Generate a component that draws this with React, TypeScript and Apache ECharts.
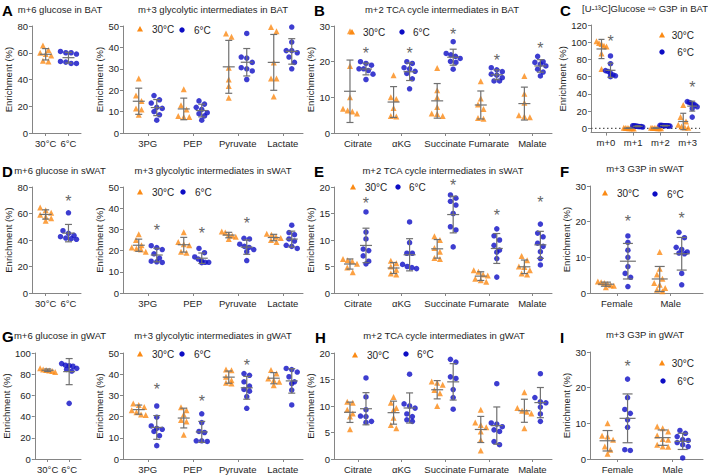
import React, { useEffect, useRef } from 'react';
import * as echarts from 'echarts';

// ---------- categories / tick labels ----------
const glucoseCats = ['30°C', '6°C'];
const glycoCats = ['3PG', 'PEP', 'Pyruvate', 'Lactate'];
const tcaCats = ['Citrate', 'αKG', 'Succinate', 'Fumarate', 'Malate'];
const isotopologueCats = ['m+0', 'm+1', 'm+2', 'm+3'];
const sexCats = ['Female', 'Male'];
const legendLabels = ['30°C', '6°C'];

const ticks80 = [0, 20, 40, 60, 80];
const ticks100 = [0, 20, 40, 60, 80, 100];
const ticks120 = [0, 20, 40, 60, 80, 100, 120];
const ticks50 = [0, 10, 20, 30, 40, 50];
const ticks30 = [0, 10, 20, 30];
const ticks20 = [0, 5, 10, 15, 20];

// ---------- BAT ----------
const batGlucose30 = [65.5, 62, 60, 59, 58, 54, 53.5];
const batGlucose6 = [61, 60, 60, 59, 53.5, 53, 52, 52];
const batGlyco30 = [
  [25.5, 17.5, 15, 11.5, 11, 8.5],
  [20.5, 13, 11, 8, 7.5, 7.5],
  [46.5, 45, 30.5, 25, 22, 16.5],
  [49.5, 47.5, 33, 25.5, 25.5, 17],
];
const batGlyco6 = [
  [17.5, 15.5, 14, 12, 11.5, 10, 8.5, 6],
  [15, 13.5, 12, 11, 9.5, 9, 8, 6],
  [46.5, 35.5, 35, 33, 30.5, 30, 29, 25],
  [49.5, 42.5, 38.5, 38.5, 37.5, 35.5, 33, 30],
];
const batTca30 = [
  [28.5, 18.8, 10, 6.8, 6.3, 6, 5.5],
  [16.2, 10, 9.5, 7, 4.8, 4.6],
  [18.2, 12, 10, 7.3, 5.5, 5.3, 4.8],
  [14.5, 9.7, 8, 6.7, 4.2, 4],
  [16, 11, 8.5, 5, 4.6, 4.4],
];
const batTca6 = [
  [20, 19.5, 19, 18, 18, 17.5, 16.5, 15],
  [20, 19.5, 18.3, 18, 17.3, 16.7, 15.2, 12.4],
  [25.6, 22.3, 21.9, 21.5, 20.9, 20.1, 19.8, 17.9],
  [18.3, 17.7, 17.2, 16.5, 16.2, 15.5, 14.6, 14.6],
  [21.5, 20, 19.8, 19.3, 18.8, 17.9, 17.1, 16],
];
const batG3P30 = [
  [101, 99, 98, 96, 95, 87, 69],
  [0.5, 0, 0, -0.3, 0.3, 0, 0.2],
  [0.5, 0.3, 0, 0, 0.2, 0.4, 0],
  [27, 13, 8, 4, 2, 1, 0.5],
];
const batG3P6 = [
  [84, 75, 67, 66, 64, 62, 61, 60],
  [3, 2.5, 2, 2, 1.5, 2.5, 3, 2],
  [3.5, 3, 3, 2.5, 3, 3.5, 2.8, 3.2],
  [31, 30, 29, 28, 27, 25, 23, 13],
];

// ---------- sWAT ----------
const swatGlucose30 = [64.5, 62.5, 60.5, 59, 57.5, 56.5, 54.5];
const swatGlucose6 = [60.5, 47, 45, 43.5, 42.5, 41.5, 41, 40.5];
const swatGlyco30 = [
  [27.7, 25, 22.5, 21.5, 21, 20.5, 19.5],
  [28.6, 24, 23, 22.5, 19.5, 19],
  [29, 28.5, 27.5, 27, 26.5, 25.5],
  [28, 27.5, 26.5, 26, 25, 24],
];
const swatGlyco6 = [
  [22.3, 21.4, 20.5, 18.5, 16.5, 15, 14.7, 14.4],
  [21, 19, 17, 16, 15, 14.5, 14.5, 14.3],
  [25.8, 25.5, 23, 22, 21.5, 20.5, 19.5, 15.3],
  [32, 28.5, 27.5, 25.5, 24.5, 22.5, 22, 21],
];
const swatTca30 = [
  [6.4, 6.2, 6, 5.5, 4.8, 3.9],
  [6.1, 5.6, 5, 4.4, 3.7, 3.5],
  [10.7, 10, 8.5, 7.8, 6.6, 6.4],
  [4.3, 4, 3.5, 3.3, 2.7, 2.4, 2.1],
  [7, 6.2, 5, 4.9, 4.3, 3.7, 3.5],
];
const swatTca6 = [
  [15.3, 11.5, 10.2, 8.3, 8, 7, 6, 5.5],
  [13.4, 9.5, 7.5, 7.5, 5.4, 5, 4.8, 4.6],
  [18.5, 17.9, 17.3, 16.6, 15, 12.5, 11.9, 8.7],
  [12.1, 10.8, 10, 9, 8.1, 7.7, 6.5, 3],
  [13, 11.3, 10.6, 9.4, 8.8, 7.8, 6.5, 5.3],
];
const swatG3P30 = [
  [3.2, 3, 2.8, 2.5, 2.2, 2, 1.6],
  [11.5, 6.8, 5.2, 4, 2.8, 2.3, 1.4, 0.9, 0.5],
];
const swatG3P6 = [
  [16, 14.2, 12, 10, 7.4, 5.5, 4.4, 1.8],
  [17, 15.5, 12.8, 12.2, 11.5, 11.2, 11, 5.5, 2.3],
];

// ---------- gWAT ----------
const gwatGlucose30 = [85.5, 84.5, 84, 83.5, 83, 82];
const gwatGlucose6 = [90, 88.5, 88, 87.5, 85.5, 84.5, 83, 52.5];
const gwatGlyco30 = [
  [26.2, 25.5, 24.5, 23, 22, 21, 20.8],
  [24.4, 23, 21, 18.4, 17.7, 11.4],
  [42.2, 41.9, 38.8, 37.2, 36, 35.6],
  [42, 40.3, 38, 37.2, 36.4, 34.8],
];
const gwatGlyco6 = [
  [25, 19.7, 15.6, 14.5, 14, 13, 11, 6.3],
  [21.3, 17.2, 13, 12.5, 8.6, 8.6, 8.3],
  [40.3, 39.5, 36.4, 34.4, 32.8, 32, 29.4, 23.9],
  [42.7, 42.2, 41, 38.8, 36.4, 35.6, 32.5, 25.5],
];
const gwatTca30 = [
  [10.8, 10.6, 9.3, 8.6, 8, 5.6],
  [11.7, 10.6, 9.6, 9.3, 7.8, 6.4, 5.8],
  [14.6, 14.4, 14, 13, 12.4, 10],
  [9.3, 6.9, 6.4, 6, 5.2, 3.6, 1.6],
  [12.6, 9.6, 9.1, 8.9, 8.6, 5.8],
];
const gwatTca6 = [
  [15.3, 11.7, 9.3, 8.1, 8, 7.1, 6.9],
  [16, 10.4, 10, 9.6, 8.5, 8, 7.4, 7.1],
  [18.8, 18.3, 15.5, 15.2, 13.1, 11.6, 9.4],
  [14.2, 6.8, 6.6, 6.1, 5.5, 5.2, 3.3, 2.7],
  [16.1, 11.6, 10.8, 10.6, 9.8, 8.5, 7.1],
];
const gwatG3P30 = [
  [10, 6.5, 6.3, 5.4, 3.5, 2.6, 1.5],
  [9.1, 8.6, 7.7, 6.6, 5.6, 5.4, 4, 3.5, 3.4],
];
const gwatG3P6 = [
  [22.4, 17.2, 13.9, 12.8, 11, 8.9, 2.6, 2.4],
  [8, 7.2, 6.3, 5.4, 5.2, 4.6, 4, 3.5, 0.3],
];

// ---------- significance asterisks: [category index, height] (at the 6°C group) ----------
const batTcaStars = [[0, 23.4], [1, 23.4], [2, 28.6], [3, 21.2], [4, 24.7]];
const batG3PStars = [[0, 104.5], [3, 52]];
const swatGlucoseStars = [[1, 72]];
const swatGlycoStars = [[0, 31.3], [1, 29.7], [2, 34.2]];
const swatTcaStars = [[0, 17.5], [2, 20.9], [3, 15.3], [4, 17.8]];
const swatG3PStars = [[0, 20.9], [1, 22]];
const gwatGlycoStars = [[0, 34.4], [1, 28.6], [2, 45.8]];
const gwatG3PStars = [[0, 26.9]];

// ---------- styling ----------
const ORANGE = '#FB8A14';
const BLUE = '#0C0CC4';
const BAR = '#707070';
const AXIS = '#858585';
const TXT = '#1e1e1e';
const FONT = '"Liberation Sans", Arial, Helvetica, sans-serif';

type Panel = {
  left: number; top: number; width: number; height: number;
  xr: [number, number]; yr: [number, number]; ticks: number[];
  cats: string[]; g30: number[][]; g6: number[][]; stars: number[][];
  half: number; spread: number; barHalf: number; capHalf: number; nameGap: number; zero?: boolean;
};

const single = (a: number[], b: number[]) => ({ g30: [a, []], g6: [[], b] });

const panels: Panel[] = [
  // row 1 (BAT)
  { left: 32, top: 26, width: 49, height: 107, xr: [-0.6, 1.55], yr: [0, 80], ticks: ticks80, cats: glucoseCats, ...single(batGlucose30, batGlucose6), stars: [], half: 0, spread: 8, barHalf: 6, capHalf: 3.5, nameGap: 15 },
  { left: 123, top: 26, width: 180, height: 107, xr: [-0.55, 3.45], yr: [0, 50], ticks: ticks50, cats: glycoCats, g30: batGlyco30, g6: batGlyco6, stars: [], half: 9, spread: 7, barHalf: 6, capHalf: 3.5, nameGap: 12 },
  { left: 334, top: 26, width: 218, height: 107, xr: [-0.55, 4.45], yr: [0, 30], ticks: ticks30, cats: tcaCats, g30: batTca30, g6: batTca6, stars: batTcaStars, half: 8, spread: 7, barHalf: 6, capHalf: 3.5, nameGap: 12 },
  { left: 591, top: 25, width: 109, height: 107.6, xr: [-0.55, 3.45], yr: [-5, 120], ticks: ticks120, cats: isotopologueCats, g30: batG3P30, g6: batG3P6, stars: batG3PStars, half: 4.5, spread: 5, barHalf: 5, capHalf: 3, nameGap: 19, zero: true },
  // row 2 (sWAT)
  { left: 32, top: 187, width: 49, height: 106, xr: [-0.6, 1.55], yr: [0, 80], ticks: ticks80, cats: glucoseCats, ...single(swatGlucose30, swatGlucose6), stars: swatGlucoseStars, half: 0, spread: 8, barHalf: 6, capHalf: 3.5, nameGap: 15 },
  { left: 123, top: 187, width: 180, height: 106, xr: [-0.55, 3.45], yr: [0, 50], ticks: ticks50, cats: glycoCats, g30: swatGlyco30, g6: swatGlyco6, stars: swatGlycoStars, half: 9, spread: 7, barHalf: 6, capHalf: 3.5, nameGap: 12 },
  { left: 334, top: 187, width: 218, height: 106, xr: [-0.55, 4.45], yr: [0, 20], ticks: ticks20, cats: tcaCats, g30: swatTca30, g6: swatTca6, stars: swatTcaStars, half: 8, spread: 7, barHalf: 6, capHalf: 3.5, nameGap: 12 },
  { left: 590, top: 186, width: 113, height: 107, xr: [-0.5, 1.6], yr: [0, 30], ticks: ticks30, cats: sexCats, g30: swatG3P30, g6: swatG3P6, stars: swatG3PStars, half: 11, spread: 8, barHalf: 8, capHalf: 5, nameGap: 15 },
  // row 3 (gWAT)
  { left: 32, top: 353, width: 49, height: 106, xr: [-0.6, 1.55], yr: [0, 100], ticks: ticks100, cats: glucoseCats, ...single(gwatGlucose30, gwatGlucose6), stars: [], half: 0, spread: 8, barHalf: 6, capHalf: 3.5, nameGap: 18 },
  { left: 123, top: 353, width: 180, height: 106, xr: [-0.55, 3.45], yr: [0, 50], ticks: ticks50, cats: glycoCats, g30: gwatGlyco30, g6: gwatGlyco6, stars: gwatGlycoStars, half: 9, spread: 7, barHalf: 6, capHalf: 3.5, nameGap: 12 },
  { left: 334, top: 353, width: 218, height: 106, xr: [-0.55, 4.45], yr: [0, 20], ticks: ticks20, cats: tcaCats, g30: gwatTca30, g6: gwatTca6, stars: [], half: 8, spread: 7, barHalf: 6, capHalf: 3.5, nameGap: 12 },
  { left: 590, top: 352, width: 113, height: 107, xr: [-0.5, 1.55], yr: [0, 30], ticks: ticks30, cats: sexCats, g30: gwatG3P30, g6: gwatG3P6, stars: gwatG3PStars, half: 10, spread: 8, barHalf: 8, capHalf: 5, nameGap: 15 },
];

const titles: [string, number, number][] = [
  ['m+6 glucose in BAT', 60, 9], ['m+3 glycolytic intermediates in BAT', 213, 9],
  ['m+2 TCA cycle intermediates in BAT', 442, 9], ['[U-¹³C]Glucose ⇨ G3P in BAT', 645, 8],
  ['m+6 glucose in sWAT', 60, 170], ['m+3 glycolytic intermediates in sWAT', 213, 170],
  ['m+2 TCA cycle intermediates in sWAT', 443, 170], ['m+3 G3P in sWAT', 645, 168],
  ['m+6 glucose in gWAT', 60, 335], ['m+3 glycolytic intermediates in gWAT', 213, 335],
  ['m+2 TCA cycle intermediates in gWAT', 444, 335], ['m+3 G3P in gWAT', 645, 334],
];
const letters: [string, number, number][] = [
  ['A', 2, 10], ['B', 314, 10], ['C', 560, 10],
  ['D', 2, 171], ['E', 314, 171], ['F', 560, 171],
  ['G', 2, 336], ['H', 315, 337], ['I', 560, 337],
];
// legend placements: triangle, 30°C text, circle, 6°C text, right-aligned?
const legends: { tri: number[]; t30: number[]; cir: number[]; t6: number[]; right?: boolean }[] = [
  { tri: [140, 29], t30: [152, 29], cir: [182, 30], t6: [194, 30] },
  { tri: [352, 32], t30: [363, 32], cir: [402, 32], t6: [413, 32] },
  { tri: [662, 35], t30: [694, 35], cir: [662, 52], t6: [694, 52], right: true },
  { tri: [140, 192], t30: [152, 192], cir: [183, 192], t6: [195, 192] },
  { tri: [353, 187], t30: [365, 187], cir: [398, 187], t6: [409, 187] },
  { tri: [605, 193], t30: [617, 193], cir: [655, 194], t6: [667, 194] },
  { tri: [140, 354], t30: [152, 354], cir: [182, 354], t6: [194, 354] },
  { tri: [355, 355], t30: [367, 355], cir: [406, 354], t6: [417, 354] },
  { tri: [662, 363], t30: [694, 363], cir: [663, 381], t6: [694, 381], right: true },
];

function swarm(vals: number[], pxY: number, size: number, maxHalf: number): number[] {
  const idx = vals.map((_, i) => i).sort((a, b) => vals[b] - vals[a]);
  const out = new Array(vals.length).fill(0);
  let row: number[] = [];
  let rowTop = 0;
  const flush = () => {
    const k = row.length;
    let step = size;
    if (((k - 1) / 2) * step > maxHalf) step = (maxHalf * 2) / (k - 1);
    row.forEach((id, j) => { out[id] = (j - (k - 1) / 2) * step; });
    row = [];
  };
  for (const i of idx) {
    const yp = vals[i] * pxY;
    if (row.length && rowTop - yp >= size) flush();
    if (!row.length) rowTop = yp;
    row.push(i);
  }
  flush();
  return out;
}

const mean = (a: number[]) => a.reduce((s, v) => s + v, 0) / a.length;
const sd = (a: number[]) => {
  const m = mean(a);
  return Math.sqrt(a.reduce((s, v) => s + (v - m) ** 2, 0) / (a.length - 1));
};

function buildOption() {
  const grid: any[] = [];
  const xAxis: any[] = [];
  const yAxis: any[] = [];
  const series: any[] = [];
  const graphic: any[] = [];

  panels.forEach((p, i) => {
    grid.push({ left: p.left, top: p.top, width: p.width, height: p.height, containLabel: false });
    const catIdx = p.cats.map((_, k) => k);
    xAxis.push({
      gridIndex: i, type: 'value', min: p.xr[0], max: p.xr[1],
      axisLine: { show: true, onZero: false, lineStyle: { color: AXIS, width: 1 } },
      axisTick: { show: true, length: 3, customValues: catIdx, lineStyle: { color: AXIS } },
      axisLabel: { customValues: catIdx, formatter: (v: number) => p.cats[Math.round(v)] ?? '', fontSize: 9.5, color: TXT, margin: 5, fontFamily: FONT },
      splitLine: { show: false },
    });
    yAxis.push({
      gridIndex: i, type: 'value', min: p.yr[0], max: p.yr[1],
      axisLine: { show: true, onZero: false, lineStyle: { color: AXIS, width: 1 } },
      axisTick: { show: true, length: 3, customValues: p.ticks, lineStyle: { color: AXIS } },
      axisLabel: { customValues: p.ticks, fontSize: 9.5, color: TXT, margin: 4, fontFamily: FONT },
      splitLine: { show: false },
      name: 'Enrichment (%)', nameLocation: 'middle', nameGap: p.nameGap,
      nameTextStyle: { fontSize: 9.5, color: TXT, fontFamily: FONT },
    });

    const pxY = p.height / (p.yr[1] - p.yr[0]);
    const pxX = p.width / (p.xr[1] - p.xr[0]);
    const pts30: number[][] = [];
    const pts6: number[][] = [];
    const bars: number[][] = [];
    const build = (groups: number[][], sign: number, out: number[][]) => {
      groups.forEach((vals, c) => {
        if (!vals.length) return;
        const center = c + (sign * p.half) / pxX;
        const offs = swarm(vals, pxY, 5.5, p.spread);
        vals.forEach((v, k) => out.push([center + offs[k] / pxX, v]));
        bars.push([center, mean(vals), sd(vals)]);
      });
    };
    build(p.g30, -1, pts30);
    build(p.g6, 1, pts6);

    series.push({
      type: 'scatter', name: legendLabels[0], xAxisIndex: i, yAxisIndex: i, data: pts30,
      symbol: 'triangle', symbolSize: 6, itemStyle: { color: ORANGE }, z: 3, silent: true,
    });
    series.push({
      type: 'scatter', name: legendLabels[1], xAxisIndex: i, yAxisIndex: i, data: pts6,
      symbol: 'circle', symbolSize: 5.5, itemStyle: { color: BLUE }, z: 3, silent: true,
    });
    series.push({
      type: 'custom', xAxisIndex: i, yAxisIndex: i, data: bars, z: 4, silent: true,
      renderItem: (_params: any, api: any) => {
        const x = api.value(0), m = api.value(1), s = api.value(2);
        const c = api.coord([x, m]);
        const hi = api.coord([x, m + s]);
        const lo = api.coord([x, m - s]);
        const st = { stroke: BAR, lineWidth: 1.2 };
        return {
          type: 'group', children: [
            { type: 'line', shape: { x1: c[0] - p.barHalf, y1: c[1], x2: c[0] + p.barHalf, y2: c[1] }, style: st },
            { type: 'line', shape: { x1: c[0], y1: hi[1], x2: c[0], y2: lo[1] }, style: st },
            { type: 'line', shape: { x1: c[0] - p.capHalf, y1: hi[1], x2: c[0] + p.capHalf, y2: hi[1] }, style: st },
            { type: 'line', shape: { x1: c[0] - p.capHalf, y1: lo[1], x2: c[0] + p.capHalf, y2: lo[1] }, style: st },
          ],
        };
      },
    });
    if (p.stars.length) {
      series.push({
        type: 'custom', xAxisIndex: i, yAxisIndex: i, silent: true, z: 5,
        data: p.stars.map(([c, y]) => [c + p.half / pxX, y]),
        renderItem: (_params: any, api: any) => {
          const pt = api.coord([api.value(0), api.value(1)]);
          return {
            type: 'text', x: pt[0], y: pt[1] + 3.5,
            style: { text: '*', fill: '#666666', font: `16px ${FONT}`, textAlign: 'center', textVerticalAlign: 'middle' },
          };
        },
      });
    }
    if (p.zero) {
      series.push({
        type: 'line', xAxisIndex: i, yAxisIndex: i, silent: true, symbol: 'none', z: 1,
        data: [[p.xr[0], 0], [p.xr[1], 0]],
        lineStyle: { color: '#555', width: 1.2, type: [1.5, 2.5] },
      });
    }
  });

  titles.forEach(([t, x, y]) => graphic.push({
    type: 'text', x, y, silent: true,
    style: { text: t, fill: TXT, font: `9.5px ${FONT}`, textAlign: 'center', textVerticalAlign: 'middle' },
  }));
  letters.forEach(([t, x, y]) => graphic.push({
    type: 'text', x, y, silent: true,
    style: { text: t, fill: '#000', font: `bold 15px ${FONT}`, textAlign: 'left', textVerticalAlign: 'middle' },
  }));
  legends.forEach((l) => {
    const [tx, ty] = l.tri;
    graphic.push({ type: 'polygon', silent: true, shape: { points: [[tx, ty - 3], [tx + 3, ty + 2.4], [tx - 3, ty + 2.4]] }, style: { fill: ORANGE } });
    graphic.push({ type: 'circle', silent: true, shape: { cx: l.cir[0], cy: l.cir[1], r: 2.7 }, style: { fill: BLUE } });
    graphic.push({ type: 'text', x: l.t30[0], y: l.t30[1], silent: true, style: { text: legendLabels[0], fill: TXT, font: `10px ${FONT}`, textAlign: l.right ? 'right' : 'left', textVerticalAlign: 'middle' } });
    graphic.push({ type: 'text', x: l.t6[0], y: l.t6[1], silent: true, style: { text: legendLabels[1], fill: TXT, font: `10px ${FONT}`, textAlign: l.right ? 'right' : 'left', textVerticalAlign: 'middle' } });
  });

  return {
    animation: false,
    backgroundColor: '#ffffff',
    textStyle: { fontFamily: FONT },
    grid, xAxis, yAxis, series, graphic,
  };
}

export default function App() {
  const ref = useRef<HTMLDivElement>(null);
  useEffect(() => {
    if (!ref.current) return;
    const chart = echarts.init(ref.current, null, { renderer: 'svg' });
    chart.setOption(buildOption());
    return () => chart.dispose();
  }, []);
  return <div ref={ref} style={{ position: 'absolute', left: 0, top: 0, width: 708, height: 475, background: '#fff' }} />;
}
